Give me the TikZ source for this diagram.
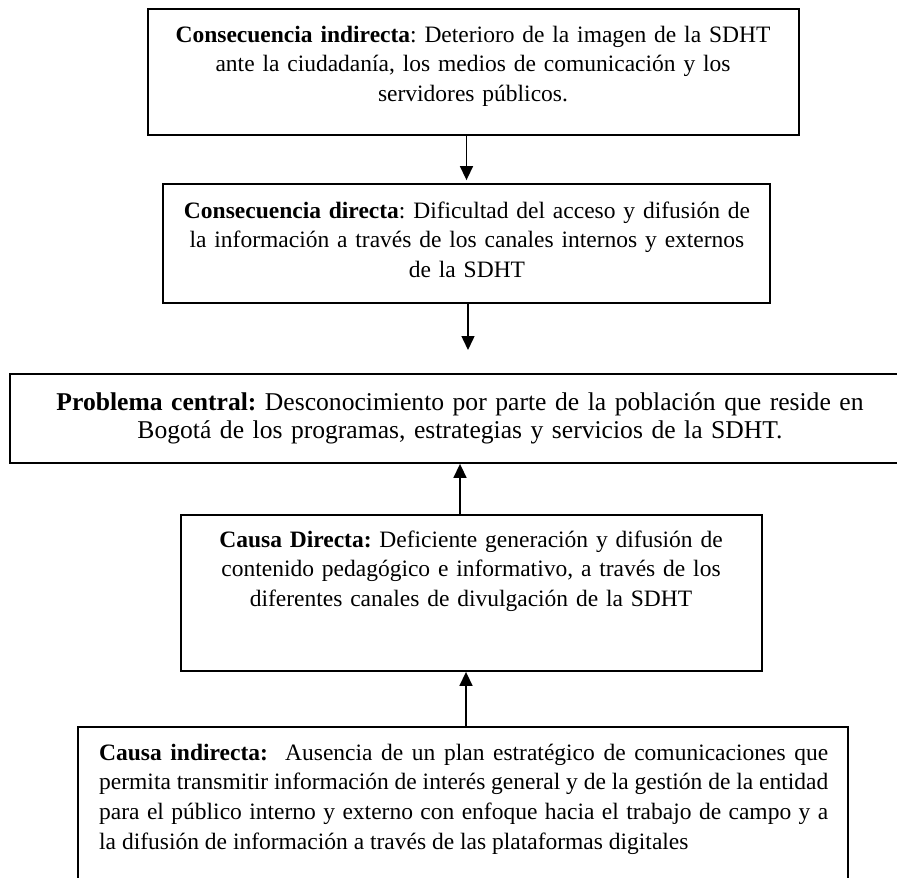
\documentclass[tikz,border=0pt]{standalone}
\usepackage{fontspec}
\setmainfont{Liberation Serif}
\usetikzlibrary{arrows.meta,calc}
\begin{document}
\frenchspacing
\begin{tikzpicture}[x=1pt,y=1pt,
  box/.style={draw, line width=1.8pt, inner sep=0pt, rectangle},
  txt/.style={inner sep=0pt, anchor=base, align=center, font=\fontsize{23.5}{29.7}\selectfont},
  arr/.style={line width=1.5pt, -{Triangle[length=14pt,width=13pt]}}]
\clip (0,0) rectangle (897,-878);
\fill[white] (0,0) rectangle (897,-878);
% boxes
\node[box, minimum width=651, minimum height=126] (b1) at (473.5,-72) {};
\node[box, minimum width=607, minimum height=119] (b2) at (466.5,-243.5) {};
\node[box, minimum width=900, minimum height=89] (b3) at (460,-418.5) {};
\node[box, minimum width=581, minimum height=156] (b4) at (471.5,-593) {};
\node[box, minimum width=770, minimum height=180] (b5) at (463,-817) {};
% texts
\node[txt, text width=640] (t1) at (473,-42) {\textbf{Consecuencia indirecta}: Deterioro de la imagen de la SDHT\\ ante la ciudadanía, los medios de comunicación y los\\ servidores públicos.};
\node[txt, text width=600] (t2) at (467,-218) {\textbf{Consecuencia directa}: Dificultad del acceso y difusión de\\ la información a través de los canales internos y externos\\ de la SDHT};
\node[txt, text width=890, font=\fontsize{25.6}{28.5}\selectfont] (t3) at (460,-410) {\textbf{Problema central:} Desconocimiento por parte de la población que reside en\\ Bogotá de los programas, estrategias y servicios de la SDHT.};
\node[txt, text width=575] (t4) at (471,-547) {\textbf{Causa Directa:} Deficiente generación y difusión de\\ contenido pedagógico e informativo, a través de los\\ diferentes canales de divulgación de la SDHT};
\node[txt, anchor=base west, text width=729, align=justify] (t5) at (99,-760) {\textbf{Causa indirecta:}\ \ Ausencia de un plan estratégico de comunicaciones que\linebreak permita transmitir información de interés general y de la gestión de la entidad\linebreak para el público interno y externo con enfoque hacia el trabajo de campo y a\linebreak la difusión de información a través de las plataformas digitales};
% connectors
\coordinate (e2) at (468,-350);
\draw[arr] (b2.north |- b1.south) -- ([yshift=3pt]b2.north);
\draw[arr] (b2.south -| e2) -- (e2);
\draw[arr] ([xshift=-11.5pt]b4.north) -- ([xshift=-11.5pt]b3.south -| b4.north);
\draw[arr] ([xshift=3pt]b5.north) -- ([xshift=3pt]b4.south -| b5.north);
\end{tikzpicture}
\end{document}
